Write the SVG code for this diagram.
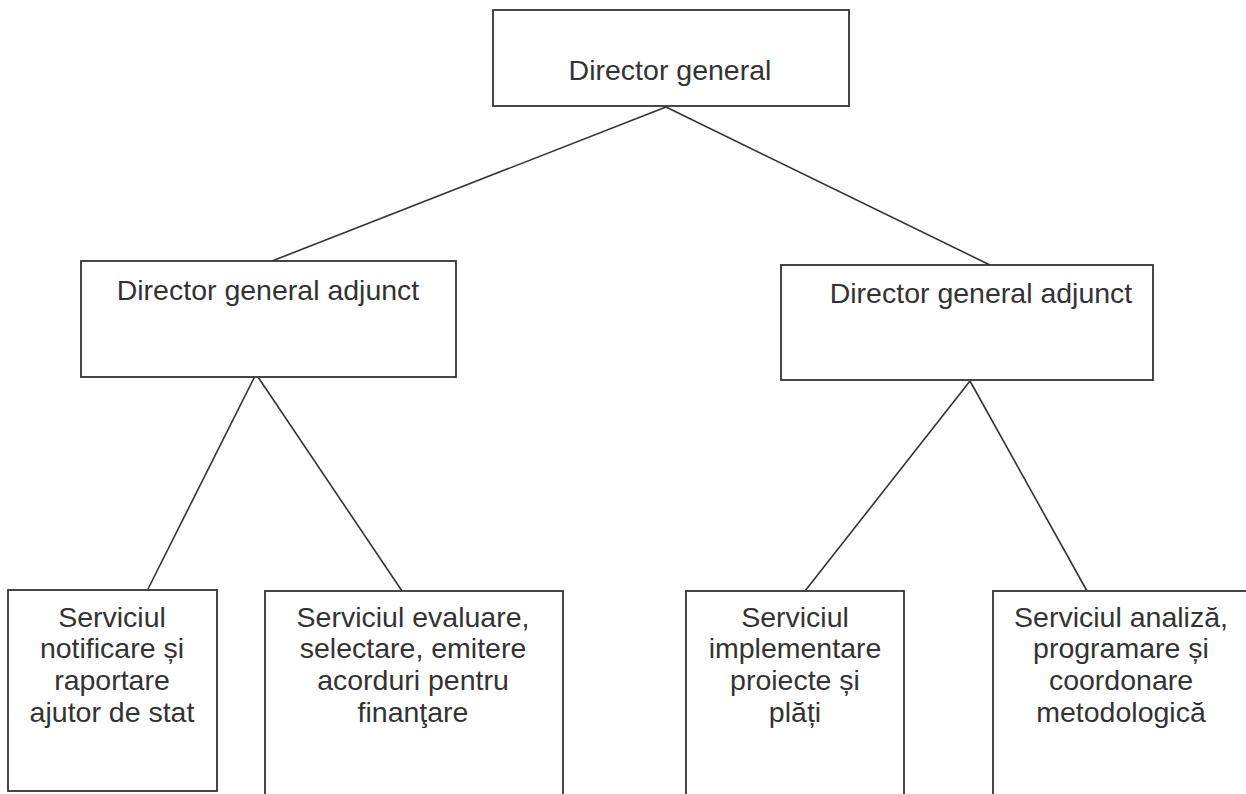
<svg xmlns="http://www.w3.org/2000/svg" width="1246" height="794" viewBox="0 0 1246 794">
<style>
.box{fill:#fff;stroke:#333;stroke-width:1.8}
.t{font-family:"Liberation Sans",Arial,sans-serif;font-size:28.5px;fill:#333;text-anchor:middle}
.c{stroke:#333;stroke-width:1.6;fill:none}
</style>
<rect width="1246" height="794" fill="#fff"/>
<g id="connectors">
<line class="c" x1="666" y1="107" x2="272" y2="261"/>
<line class="c" x1="666" y1="107" x2="990" y2="265"/>
<line class="c" x1="256" y1="374" x2="148" y2="589"/>
<line class="c" x1="256" y1="374" x2="402" y2="591"/>
<line class="c" x1="970" y1="381" x2="805" y2="591"/>
<line class="c" x1="970" y1="381" x2="1087" y2="591"/>
</g>
<g id="director-general">
<rect class="box" x="493" y="10" width="356" height="96"/>
<text class="t" x="670" y="80">Director general</text>
</g>
<g id="dga-left">
<rect class="box" x="81" y="261" width="375" height="116"/>
<text class="t" x="268" y="300">Director general adjunct</text>
</g>
<g id="dga-right">
<rect class="box" x="781" y="265" width="372" height="115"/>
<text class="t" x="981" y="303">Director general adjunct</text>
</g>
<g id="serv-notificare">
<rect class="box" x="8" y="590" width="209" height="201"/>
<text class="t" x="112" y="627">Serviciul</text>
<text class="t" x="112" y="658">notificare și</text>
<text class="t" x="112" y="690">raportare</text>
<text class="t" x="112" y="722">ajutor de stat</text>
</g>
<g id="serv-evaluare">
<rect class="box" x="265" y="591" width="298" height="215"/>
<text class="t" x="413" y="627">Serviciul evaluare,</text>
<text class="t" x="413" y="658">selectare, emitere</text>
<text class="t" x="413" y="690">acorduri pentru</text>
<text class="t" x="413" y="722">finanţare</text>
</g>
<g id="serv-implementare">
<rect class="box" x="686" y="591" width="218" height="215"/>
<text class="t" x="795" y="627">Serviciul</text>
<text class="t" x="795" y="658">implementare</text>
<text class="t" x="795" y="690">proiecte și</text>
<text class="t" x="795" y="722">plăți</text>
</g>
<g id="serv-analiza">
<rect class="box" x="993" y="591" width="260" height="215"/>
<text class="t" x="1121" y="627">Serviciul analiză,</text>
<text class="t" x="1121" y="658">programare și</text>
<text class="t" x="1121" y="690">coordonare</text>
<text class="t" x="1121" y="722">metodologică</text>
</g>
</svg>
